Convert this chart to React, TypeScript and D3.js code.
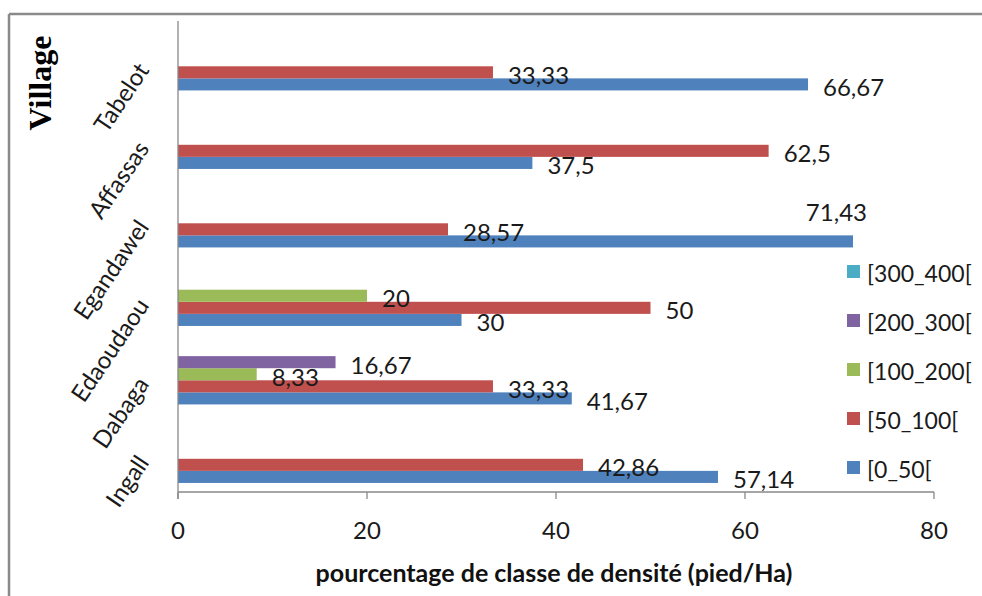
import React from 'react';
import * as d3 from 'd3';

// villages, bottom to top as drawn
const categories = ['Ingall', 'Dabaga', 'Edaoudaou', 'Egandawel', 'Affassas', 'Tabelot'];
const seriesNames = ['[0_50[', '[50_100[', '[100_200[', '[200_300[', '[300_400['];
const class0_50 = [57.14, 41.67, 30, 71.43, 37.5, 66.67];
const class50_100 = [42.86, 33.33, 50, 28.57, 62.5, 33.33];
const class100_200 = [0, 8.33, 20, 0, 0, 0];
const class200_300 = [0, 16.67, 0, 0, 0, 0];
const class300_400 = [0, 0, 0, 0, 0, 0];
const xTicks = [0, 20, 40, 60, 80];
const colors = ['#4F81BD', '#C0504D', '#9BBB59', '#8064A2', '#4BACC6'];

const W = 982;
const H = 596;
const plot = { left: 178, right: 934, top: 21, bottom: 492 };
const sansFont = 'Lato, "Open Sans", sans-serif';

export default function App() {
  const series = [class0_50, class50_100, class100_200, class200_300, class300_400];

  const x = d3.scaleLinear().domain([0, 80]).range([plot.left, plot.right]);
  const y = d3.scaleBand().domain(categories).range([plot.bottom, plot.top]);
  // first series at the bottom of each group
  const inner = d3.scaleBand<number>()
    .domain([4, 3, 2, 1, 0])
    .range([0, y.bandwidth()])
    .paddingOuter(0.75);

  const fmt = (v: number) => String(v).replace('.', ',');

  const bars: React.ReactNode[] = [];
  const labels: React.ReactNode[] = [];
  series.forEach((vals, si) => {
    vals.forEach((v, ci) => {
      if (!v) return;
      const y0 = (y(categories[ci]) ?? 0) + (inner(si) ?? 0);
      const h = inner.bandwidth();
      const xe = x(v);
      bars.push(
        <rect key={`b${si}-${ci}`} x={plot.left} y={y0} width={xe - plot.left} height={h}
          fill={colors[si]} />
      );
      const txt = fmt(v);
      const estW = txt.length * 12.5;
      const cy = y0 + h / 2;
      if (xe + 15 + estW > 900) {
        // no room on the right: excel pushes it above the bar
        labels.push(
          <text key={`l${si}-${ci}`} x={xe + 14} y={cy - 30} textAnchor="end"
            dominantBaseline="central">{txt}</text>
        );
      } else {
        labels.push(
          <text key={`l${si}-${ci}`} x={xe + 15} y={cy + 2} dominantBaseline="central">{txt}</text>
        );
      }
    });
  });

  return (
    <div style={{ position: 'fixed', left: 0, top: 0 }}>
      <svg width={W} height={H} style={{ display: 'block', background: '#fff' }}>
        {/* chart frame, cropped at right/bottom */}
        <line x1={9} y1={14} x2={W} y2={14} stroke="#8a8a8a" strokeWidth={2.5} />
        <line x1={9} y1={14} x2={9} y2={H} stroke="#8a8a8a" strokeWidth={2.5} />

        <g>{bars}</g>

        {/* axes */}
        <line x1={plot.left} y1={plot.top} x2={plot.left} y2={plot.bottom + 7} stroke="#888" strokeWidth={1.3} />
        <line x1={plot.left} y1={plot.bottom} x2={plot.right} y2={plot.bottom} stroke="#888" strokeWidth={1.3} />
        {xTicks.map(t => (
          <g key={t}>
            <line x1={x(t)} x2={x(t)} y1={plot.bottom} y2={plot.bottom + 7} stroke="#888" strokeWidth={1.3} />
            <text x={x(t)} y={plot.bottom + 37} textAnchor="middle" dominantBaseline="central"
              fontFamily={sansFont} fontSize={24} fill="#1a1a1a">{t}</text>
          </g>
        ))}

        {/* category labels */}
        {categories.map(c => {
          const cy = (y(c) ?? 0) + y.bandwidth() / 2;
          return (
            <text key={c} transform={`translate(150,${cy + 10}) rotate(-56)`} textAnchor="end"
              fontFamily={sansFont} fontSize={24} fill="#1a1a1a">{c}</text>
          );
        })}

        <g fontFamily={sansFont} fontSize={24} fill="#1a1a1a">{labels}</g>

        {/* legend */}
        {seriesNames.slice().reverse().map((n, i) => {
          const si = seriesNames.length - 1 - i;
          const cy = 271.5 + i * 49;
          return (
            <g key={n}>
              <rect x={847} y={cy - 6.5} width={13} height={13} fill={colors[si]} />
              <text x={867} y={cy + 1} dominantBaseline="central" fontFamily={sansFont} fontSize={23}
                fill="#1a1a1a">{n}</text>
            </g>
          );
        })}

        {/* axis titles */}
        <text x={554} y={572} textAnchor="middle" dominantBaseline="central" fontFamily={sansFont}
          fontWeight="bold" fontSize={25} fill="#111">pourcentage de classe de densité (pied/Ha)</text>
        <text transform="translate(40,83) rotate(-90)" textAnchor="middle" dominantBaseline="central"
          fontFamily='"Liberation Serif", "Times New Roman", serif' fontWeight="bold" fontSize={32}
          fill="#000">Village</text>
      </svg>
    </div>
  );
}
